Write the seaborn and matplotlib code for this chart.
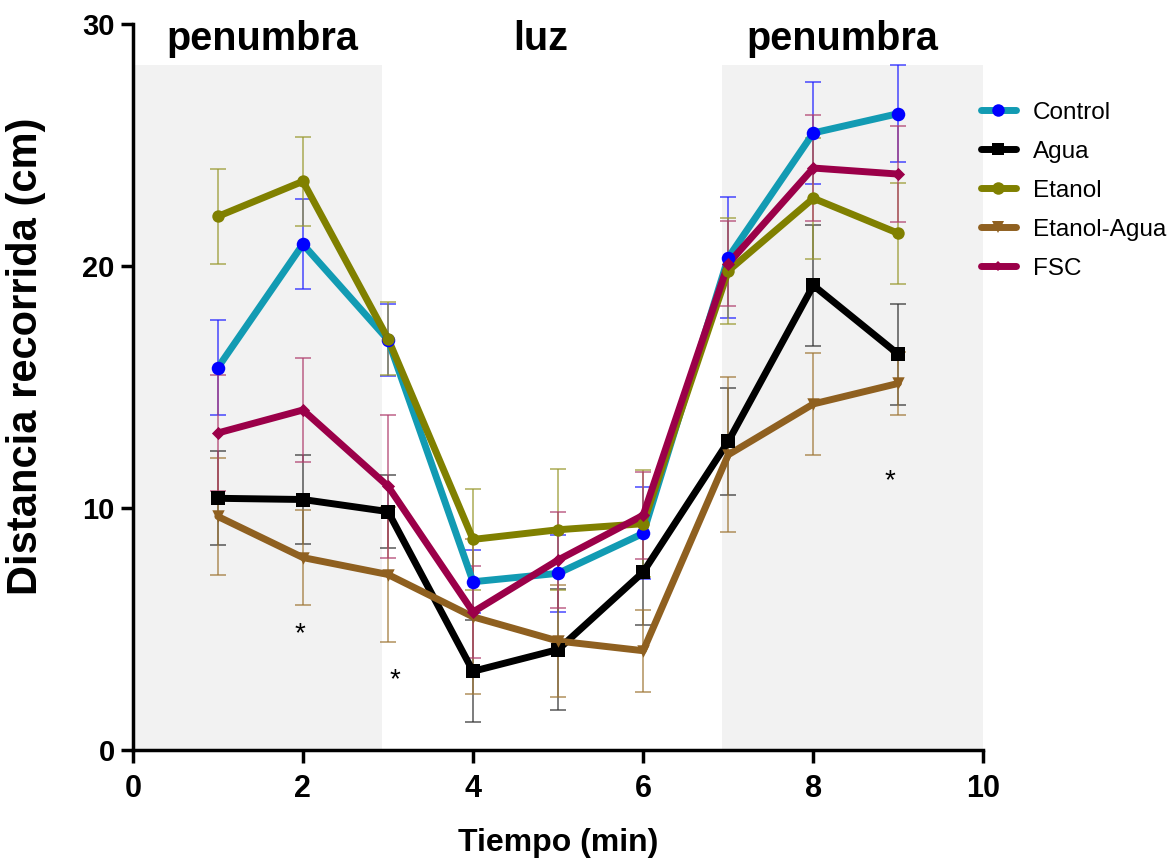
import matplotlib
matplotlib.use('Agg')
import matplotlib.pyplot as plt
from matplotlib.lines import Line2D
import pandas as pd
import seaborn as sns

tiempo = [1, 2, 3, 4, 5, 6, 7, 8, 9]
grupos = ['Control', 'Agua', 'Etanol', 'Etanol-Agua', 'FSC']

control = [15.8, 20.9, 16.95, 6.95, 7.3, 8.95, 20.35, 25.5, 26.3]
control_sem = [1.95, 1.85, 1.5, 1.3, 1.6, 1.9, 2.5, 2.1, 2.0]
agua = [10.4, 10.35, 9.85, 3.25, 4.15, 7.35, 12.75, 19.2, 16.35]
agua_sem = [1.95, 1.85, 1.5, 2.1, 2.5, 2.2, 2.2, 2.5, 2.1]
etanol = [22.05, 23.5, 17.0, 8.7, 9.1, 9.35, 19.8, 22.8, 21.35]
etanol_sem = [1.95, 1.85, 1.5, 2.1, 2.5, 2.2, 2.2, 2.5, 2.1]
etanol_agua = [9.65, 7.95, 7.25, 5.5, 4.5, 4.1, 12.2, 14.3, 15.15]
etanol_agua_sem = [2.4, 1.95, 2.8, 3.2, 2.3, 1.7, 3.2, 2.1, 1.3]
fsc = [13.1, 14.05, 10.9, 5.7, 7.85, 9.7, 20.1, 24.05, 23.8]
fsc_sem = [2.4, 2.15, 2.95, 1.9, 2.0, 1.8, 1.75, 2.2, 2.0]

line_colors = ['#129BB3', '#000000', '#808000', '#8F6020', '#9B0049']
marker_colors = ['#0000FF', '#000000', '#808000', '#8F6020', '#9B0049']
err_colors = ['#2020FF', '#333333', '#9A9A30', '#A07838', '#B0406E']
markers = ['o', 's', 'o', 'v', 'D']
marker_sizes = [95, 95, 80, 80, 45]

sns.set_style('ticks')
plt.rcParams['font.family'] = ['Liberation Sans', 'DejaVu Sans']
plt.rcParams['text.color'] = 'black'
plt.rcParams['axes.labelcolor'] = 'black'
plt.rcParams['xtick.color'] = 'black'
plt.rcParams['ytick.color'] = 'black'
plt.rcParams['axes.edgecolor'] = 'black'

medias = [control, agua, etanol, etanol_agua, fsc]
sems = [control_sem, agua_sem, etanol_sem, etanol_agua_sem, fsc_sem]
df = pd.DataFrame({
    'tiempo': tiempo * len(grupos),
    'distancia': sum(medias, []),
    'sem': sum(sems, []),
    'grupo': [g for g in grupos for _ in tiempo],
})

fig = plt.figure(figsize=(11.75, 8.6), dpi=100)
ax = fig.add_axes([0.113, 0.128, 0.724, 0.844])

# zonas de penumbra
ax.fill_between([0, 2.93], 0, 28.3, color='#F2F2F2', lw=0, zorder=0)
ax.fill_between([6.93, 10], 0, 28.3, color='#F2F2F2', lw=0, zorder=0)

for i, g in enumerate(grupos):
    sub = df[df['grupo'] == g]
    ax.errorbar(sub['tiempo'], sub['distancia'], yerr=sub['sem'], fmt='none',
                ecolor=err_colors[i], alpha=0.75, elinewidth=1.2, capsize=6,
                capthick=1.2, zorder=2)

sns.lineplot(data=df, x='tiempo', y='distancia', hue='grupo',
             palette=dict(zip(grupos, line_colors)), linewidth=5,
             legend=False, ax=ax, zorder=3)
for i, g in enumerate(grupos):
    sub = df[df['grupo'] == g]
    sns.scatterplot(data=sub, x='tiempo', y='distancia', marker=markers[i],
                    color=marker_colors[i], s=marker_sizes[i], linewidth=0,
                    ax=ax, zorder=4)

ax.set_xlim(0, 10)
ax.set_ylim(0, 30)
ax.set_xticks([0, 2, 4, 6, 8, 10])
ax.set_yticks([0, 10, 20, 30])
ax.tick_params(axis='both', width=2.5, length=9)
ax.tick_params(axis='x', pad=8)
ax.tick_params(axis='y', pad=4)
plt.setp(ax.get_xticklabels(), fontsize=22, fontweight='bold')
plt.setp(ax.get_yticklabels(), fontsize=21, fontweight='bold')
for s in ['left', 'bottom']:
    ax.spines[s].set_linewidth(2.5)
sns.despine(ax=ax)
ax.set_xlabel('Tiempo (min)', fontsize=23, fontweight='bold')
ax.set_ylabel('Distancia recorrida (cm)', fontsize=30, fontweight='bold')
ax.xaxis.set_label_coords(0.5, -0.108)
ax.yaxis.set_label_coords(-0.102, 0.543)

for x, txt in [(1.52, 'penumbra'), (4.79, 'luz'), (8.34, 'penumbra')]:
    ax.text(x, 29.4, txt, ha='center', va='center', fontsize=28.5, fontweight='bold')

for x, y in [(1.97, 4.8), (3.08, 2.9), (8.9, 11.1)]:
    ax.text(x, y, '*', ha='center', va='center', fontsize=20)

handles = [Line2D([0], [0], color=line_colors[i], lw=5, marker=markers[i],
                  markersize=9 if markers[i] != 'D' else 5,
                  markerfacecolor=marker_colors[i], markeredgewidth=0)
           for i in range(len(grupos))]
ax.legend(handles, grupos, loc='upper left', bbox_to_anchor=(0.971, 0.923),
          frameon=False, fontsize=17.5, handlelength=1.45, handletextpad=0.7,
          labelspacing=0.7)

fig.savefig('out.png', dpi=100)
